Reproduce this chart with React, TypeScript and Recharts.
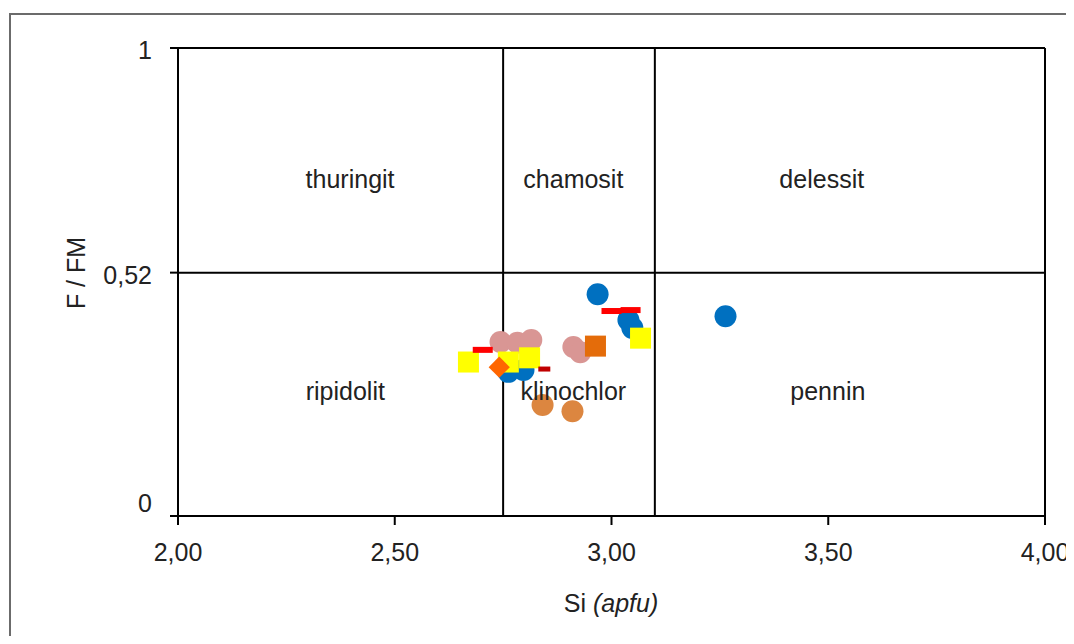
import {
  ScatterChart,
  Scatter,
  XAxis,
  YAxis,
  ReferenceLine,
  ReferenceDot,
} from "recharts";

type Pt = { x: number; y: number };

// chlorite analyses, Si (apfu) vs F/FM
const blueCircles: Pt[] = [
  { x: 2.968, y: 0.474 },
  { x: 3.263, y: 0.427 },
  { x: 3.039, y: 0.419 },
  { x: 3.048, y: 0.402 },
  { x: 2.762, y: 0.308 },
  { x: 2.797, y: 0.312 },
];
const pinkCircles: Pt[] = [
  { x: 2.744, y: 0.372 },
  { x: 2.783, y: 0.37 },
  { x: 2.815, y: 0.376 },
  { x: 2.912, y: 0.361 },
  { x: 2.928, y: 0.35 },
];
const tanCircles: Pt[] = [
  { x: 2.841, y: 0.237 },
  { x: 2.91, y: 0.224 },
];
const orangeSquares: Pt[] = [{ x: 2.963, y: 0.363 }];
const yellowSquares: Pt[] = [
  { x: 2.67, y: 0.329 },
  { x: 2.762, y: 0.329 },
  { x: 2.811, y: 0.338 },
  { x: 3.067, y: 0.38 },
];
const orangeDiamonds: Pt[] = [{ x: 2.741, y: 0.318 }];
const redDashes: Pt[] = [
  { x: 2.703, y: 0.355 },
  { x: 3.0, y: 0.438 },
  { x: 3.044, y: 0.44 },
];
const darkRedDashes: Pt[] = [{ x: 2.845, y: 0.314 }];

const xTicks = [2, 2.5, 3, 3.5, 4];
const yTicks = [0, 0.52, 1];
const siBounds = [2.75, 3.1];
const fmBound = 0.52;

const fieldNames = ["thuringit", "chamosit", "delessit", "ripidolit", "klinochlor", "pennin"];
const fieldX = [2.397, 2.912, 3.485, 2.386, 2.912, 3.499];
const fieldY = [0.72, 0.72, 0.72, 0.267, 0.267, 0.267];

const FONT = "'Liberation Sans', Arial, sans-serif";
const TXT = "#222";

const circle = (fill: string) => (p: any) => (
  <circle cx={p.cx} cy={p.cy} r={11} fill={fill} />
);
const square = (fill: string) => (p: any) => (
  <rect x={p.cx - 10.5} y={p.cy - 10.5} width={21} height={21} fill={fill} />
);
const diamond = (fill: string) => (p: any) => (
  <rect
    x={p.cx - 7.5}
    y={p.cy - 7.5}
    width={15}
    height={15}
    fill={fill}
    transform={`rotate(45 ${p.cx} ${p.cy})`}
  />
);
const dash = (fill: string, w: number, h: number) => (p: any) => (
  <rect x={p.cx - w / 2} y={p.cy - h / 2} width={w} height={h} fill={fill} />
);

const YTick = (props: any) => {
  const { x, y, payload } = props;
  const v = payload.value;
  return (
    <text
      x={x}
      y={v === 0 ? y - 13 : y + 2}
      textAnchor="end"
      dominantBaseline="central"
      fontSize={25}
      fontFamily={FONT}
      fill={TXT}
    >
      {String(v).replace(".", ",")}
    </text>
  );
};

export default function App() {
  return (
    <div style={{ position: "relative", width: 1066, height: 628 }}>
      <style>{"html,body{overflow:hidden}"}</style>
      <div
        style={{
          position: "absolute",
          left: 1,
          top: 5,
          width: 1100,
          height: 700,
          borderLeft: "2px solid #6b6b6b",
          borderTop: "2px solid #6b6b6b",
        }}
      />
      <ScatterChart
        width={1066}
        height={628}
        margin={{ top: 40, right: 29, bottom: 60, left: 80 }}
        style={{ position: "absolute", left: 0, top: 0 }}
      >
        <XAxis
          type="number"
          dataKey="x"
          domain={[2, 4]}
          ticks={xTicks}
          allowDataOverflow
          tickFormatter={(v: number) => v.toFixed(2).replace(".", ",")}
          tick={{ fontSize: 25, fontFamily: FONT, fill: TXT }}
          tickSize={9}
          tickMargin={18}
          height={60}
          stroke="#000"
          strokeWidth={2}
          label={() => (
            <text
              x={603}
              y={595}
              textAnchor="middle"
              dominantBaseline="central"
              fontSize={25}
              fontFamily={FONT}
              fill={TXT}
            >
              Si <tspan fontStyle="italic">(apfu)</tspan>
            </text>
          )}
        />
        <YAxis
          type="number"
          dataKey="y"
          domain={[0, 1]}
          ticks={yTicks}
          allowDataOverflow
          tick={<YTick />}
          tickSize={8}
          tickMargin={18}
          width={90}
          stroke="#000"
          strokeWidth={2}
          label={() => (
            <text
              x={68}
              y={265}
              textAnchor="middle"
              dominantBaseline="central"
              fontSize={25}
              fontFamily={FONT}
              fill={TXT}
              transform="rotate(-90 68 265)"
            >
              F / FM
            </text>
          )}
        />
        <ReferenceLine y={1} stroke="#000" strokeWidth={2} />
        <ReferenceLine x={4} stroke="#000" strokeWidth={2} />
        <ReferenceLine y={fmBound} stroke="#000" strokeWidth={2} />
        {siBounds.map((s) => (
          <ReferenceLine key={s} x={s} stroke="#000" strokeWidth={2} />
        ))}
        {fieldNames.map((n, i) => (
          <ReferenceDot
            key={n}
            x={fieldX[i]}
            y={fieldY[i]}
            r={1}
            fill="none"
            stroke="none"
            label={{
              value: n,
              position: "center",
              fontSize: 25,
              fontFamily: FONT,
              fill: TXT,
            }}
          />
        ))}
        <Scatter data={blueCircles} shape={circle("#0070c0")} isAnimationActive={false} />
        <Scatter data={pinkCircles} shape={circle("#d99694")} isAnimationActive={false} />
        <Scatter data={tanCircles} shape={circle("#dc8640")} isAnimationActive={false} />
        <Scatter data={orangeSquares} shape={square("#e46c0a")} isAnimationActive={false} />
        <Scatter data={yellowSquares} shape={square("#ffff00")} isAnimationActive={false} />
        <Scatter data={orangeDiamonds} shape={diamond("#ff6600")} isAnimationActive={false} />
        <Scatter data={redDashes} shape={dash("#ff0000", 20, 6)} isAnimationActive={false} />
        <Scatter data={darkRedDashes} shape={dash("#c00000", 12, 5)} isAnimationActive={false} />
      </ScatterChart>
    </div>
  );
}
